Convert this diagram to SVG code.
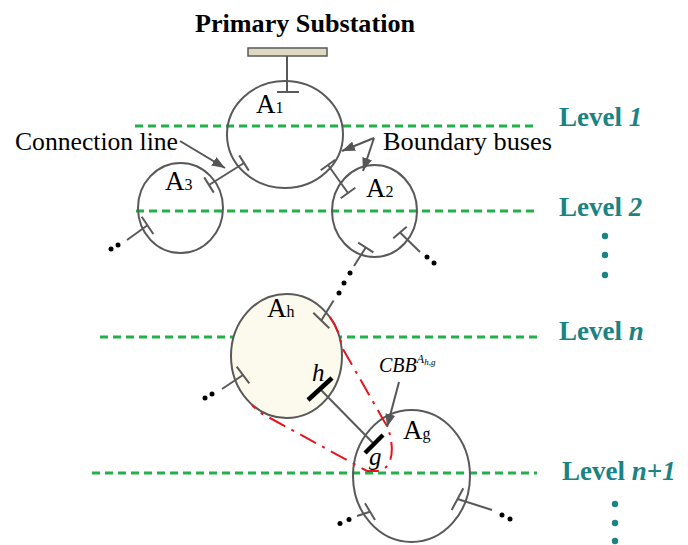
<svg xmlns="http://www.w3.org/2000/svg" width="688" height="545" viewBox="0 0 688 545">
<defs>
<marker id="arr" markerUnits="userSpaceOnUse" markerWidth="14" markerHeight="10" refX="13" refY="5" orient="auto">
<path d="M0,0 L13,5 L0,10 z" fill="#555"/>
</marker>
<style>
.area{fill:none;stroke:#595959;stroke-width:2}
.ln{fill:none;stroke:#595959;stroke-width:2}
.bus{stroke:#000;stroke-width:4.5;fill:none}
.lvl{fill:none;stroke:#22b04b;stroke-width:3;stroke-dasharray:8 5}
.dot{fill:#000}
.tdot{fill:#1b8383}
.lab{font-family:"Liberation Serif","Times New Roman",serif;font-size:25px;fill:#000}
.big{font-size:27px}
.sub{font-size:16px}
.lt{font-family:"Liberation Serif","Times New Roman",serif;font-size:27px;font-weight:bold;fill:#1b8383}
.it{font-style:italic}
.red{fill:none;stroke:#e8141c;stroke-width:2;stroke-dasharray:18 7 3 7}
.ptr{fill:none;stroke:#555;stroke-width:2;marker-end:url(#arr)}
</style>
</defs>
<rect width="688" height="545" fill="#fff"/>

<g id="levels">
<line class="lvl" x1="135" y1="126" x2="537" y2="126"/>
<line class="lvl" x1="136" y1="211" x2="537" y2="211"/>
<line class="lvl" x1="100" y1="337" x2="537" y2="337"/>
<line class="lvl" x1="92" y1="473" x2="537" y2="473"/>
<text class="lt" x="559" y="126">Level <tspan class="it">1</tspan></text>
<text class="lt" x="559" y="216">Level <tspan class="it">2</tspan></text>
<text class="lt" x="559" y="340">Level <tspan class="it">n</tspan></text>
<text class="lt" x="562" y="480">Level <tspan class="it">n+1</tspan></text>
<circle class="tdot" cx="605" cy="236" r="3.2"/>
<circle class="tdot" cx="605" cy="255" r="3.2"/>
<circle class="tdot" cx="605" cy="275" r="3.2"/>
<circle class="tdot" cx="615" cy="504" r="3.2"/>
<circle class="tdot" cx="615" cy="523" r="3.2"/>
<circle class="tdot" cx="615" cy="541" r="3.2"/>
</g>

<g id="substation">
<text x="305" y="32" text-anchor="middle" font-family="Liberation Serif,'Times New Roman',serif" font-size="26" font-weight="bold" textLength="220" lengthAdjust="spacingAndGlyphs">Primary Substation</text>
<rect x="248" y="48" width="79" height="8" fill="#ddd9c3" stroke="#595959" stroke-width="1.5"/>
</g>

<g id="A1">
<ellipse class="area" cx="285" cy="134.5" rx="58" ry="53.5"/>
<text class="lab big" x="256" y="113">A<tspan class="sub">1</tspan></text>
</g>
<g id="A3">
<ellipse class="area" cx="180.5" cy="208" rx="42.5" ry="45"/>
<text class="lab big" x="165" y="190">A<tspan class="sub">3</tspan></text>
</g>
<g id="A2">
<ellipse class="area" cx="374.5" cy="211" rx="42.5" ry="46"/>
<text class="lab big" x="366" y="197">A<tspan class="sub">2</tspan></text>
</g>
<g id="Ah">
<ellipse cx="286.5" cy="356" rx="55.5" ry="62" fill="#fcfaec" stroke="#595959" stroke-width="2"/>
<text class="lab big" x="267" y="317">A<tspan class="sub">h</tspan></text>
</g>
<g id="Ag">
<ellipse class="area" cx="411.5" cy="476" rx="58.5" ry="66"/>
<text class="lab big" x="403" y="439">A<tspan class="sub">g</tspan></text>
</g>

<g id="connectors">
<line class="ln" x1="287" y1="56" x2="287" y2="92"/>
<line class="ln" x1="277" y1="92" x2="299" y2="92"/>
<line class="ln" x1="209" y1="185" x2="244" y2="163"/>
<line class="ln" x1="204.2" y1="177.4" x2="213.8" y2="192.6"/>
<line class="ln" x1="239.2" y1="155.4" x2="248.8" y2="170.6"/>
<line class="ln" x1="328" y1="165" x2="348" y2="193"/>
<line class="ln" x1="320.7" y1="170.2" x2="335.3" y2="159.8"/>
<line class="ln" x1="340.7" y1="198.2" x2="355.3" y2="187.8"/>
<line class="ln" x1="365.8" y1="247.5" x2="354" y2="266"/>
<line class="ln" x1="358.2" y1="242.7" x2="373.4" y2="252.3"/>
<circle class="dot" cx="350" cy="273" r="2.5"/>
<circle class="dot" cx="344" cy="283" r="2.5"/>
<circle class="dot" cx="339" cy="293" r="2.5"/>
<line class="ln" x1="333.5" y1="300.5" x2="321.3" y2="320.5"/>
<line class="ln" x1="313.3" y1="312.7" x2="329.3" y2="328.3"/>
<line class="ln" x1="400" y1="232.5" x2="420" y2="252"/>
<line class="ln" x1="393.3" y1="238.3" x2="406.7" y2="226.7"/>
<circle class="dot" cx="427" cy="257" r="2.5"/>
<circle class="dot" cx="434" cy="263" r="2.5"/>
<line class="ln" x1="147.5" y1="225.3" x2="127" y2="240"/>
<line class="ln" x1="141.7" y1="216.7" x2="153.3" y2="234"/>
<circle class="dot" cx="118" cy="245" r="2.5"/>
<circle class="dot" cx="111" cy="249" r="2.5"/>
<line class="ln" x1="243" y1="375" x2="222" y2="389"/>
<line class="ln" x1="236.7" y1="366.7" x2="249.3" y2="383.3"/>
<circle class="dot" cx="212" cy="394" r="2.5"/>
<circle class="dot" cx="205" cy="398" r="2.5"/>
<line class="ln" x1="320" y1="389" x2="374" y2="444"/>
<line class="bus" x1="308" y1="400" x2="332" y2="378"/>
<line class="bus" x1="365" y1="453" x2="383" y2="435"/>
<line class="ln" x1="370" y1="511.7" x2="357" y2="516"/>
<line class="ln" x1="365" y1="503.3" x2="375" y2="520"/>
<circle class="dot" cx="349" cy="519.5" r="2.5"/>
<circle class="dot" cx="340" cy="523.5" r="2.5"/>
<line class="ln" x1="457.5" y1="499" x2="492" y2="510"/>
<line class="ln" x1="451.7" y1="510" x2="463.3" y2="488.3"/>
<circle class="dot" cx="502" cy="515" r="2.5"/>
<circle class="dot" cx="510" cy="519" r="2.5"/>
<path class="red" d="M330,317 A55.5,62 0 0 1 341.8,347 L388,428 C394,446 394,466 380,471 L367,471 L270,418 A55.5,62 0 0 1 252,405"/>
<line class="ptr" x1="180" y1="141" x2="225" y2="168"/>
<polyline class="ptr" points="374,138 342,151"/>
<polyline class="ptr" points="374,138 363,171"/>
<line class="ptr" x1="399" y1="382" x2="387" y2="427"/>
</g>

<g id="labels">
<text class="lab" x="15" y="150" textLength="163" lengthAdjust="spacingAndGlyphs">Connection line</text>
<text class="lab" x="383" y="150" textLength="169" lengthAdjust="spacingAndGlyphs">Boundary buses</text>
<text class="lab it" x="312" y="381">h</text>
<text class="lab it" x="369" y="465">g</text>
<text font-family="Liberation Serif,'Times New Roman',serif" font-style="italic" font-size="20" x="379" y="372">CBB<tspan font-size="12" dy="-9">A</tspan><tspan font-size="9" dy="2">h,g</tspan></text>
</g>
</svg>
